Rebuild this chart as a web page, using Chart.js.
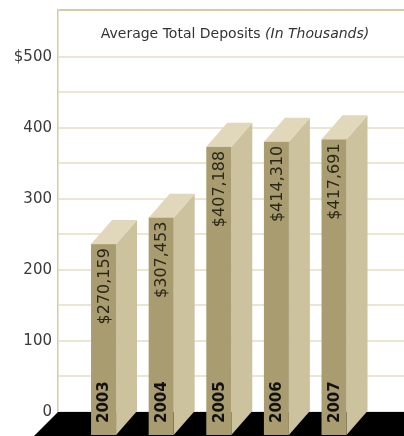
<!DOCTYPE html>
<html>
<head>
<meta charset="utf-8">
<script src="https://cdn.jsdelivr.net/npm/chart.js@4"></script>
<style>
  html, body { margin: 0; padding: 0; background: #fff; }
  canvas { display: block; }
</style>
</head>
<body>
<canvas id="deposits-chart" width="404" height="436"></canvas>
<script>
// data
const years = [2003, 2004, 2005, 2006, 2007];
const deposits = [270159, 307453, 407188, 414310, 417691];
const tickLabels = ['0', '100', '200', '300', '400', '$500'];
const titleMain = 'Average Total Deposits ';
const titleItalic = '(In Thousands)';

const yMax = 566000;
const depthX = 21;
const depthY = 24;

const colors = {
    front: '#a99c70',
    side: '#cdc29e',
    top: '#e1d8bc',
    floor: '#000000',
    grid: '#ebe6d3',
    border: '#d5cba6'
};

const bar3d = {
    id: 'bar3d',
    beforeDatasetsDraw(chart) {
        const { ctx, chartArea } = chart;
        ctx.save();
        // floor
        ctx.fillStyle = colors.floor;
        ctx.beginPath();
        ctx.moveTo(chartArea.left, chartArea.bottom);
        ctx.lineTo(chart.width + 30, chartArea.bottom);
        ctx.lineTo(chart.width + 30 - depthX - 3, chart.height);
        ctx.lineTo(chartArea.left - depthX - 3, chart.height);
        ctx.closePath();
        ctx.fill();

        // title inside plot
        const size = 14;
        ctx.font = size + 'px "DejaVu Sans"';
        const w1 = ctx.measureText(titleMain).width;
        ctx.font = 'italic ' + size + 'px "DejaVu Sans"';
        const w2 = ctx.measureText(titleItalic).width;
        const x = 235 - (w1 + w2) / 2;
        ctx.fillStyle = '#333';
        ctx.textBaseline = 'alphabetic';
        ctx.textAlign = 'left';
        ctx.font = size + 'px "DejaVu Sans"';
        ctx.fillText(titleMain, x, chartArea.top + 28);
        ctx.font = 'italic ' + size + 'px "DejaVu Sans"';
        ctx.fillText(titleItalic, x + w1, chartArea.top + 28);
        ctx.restore();
    },
    afterDatasetsDraw(chart) {
        const { ctx } = chart;
        const meta = chart.getDatasetMeta(0);
        ctx.save();
        meta.data.forEach((bar, i) => {
            const half = bar.width / 2;
            const bl = bar.x - half, br = bar.x + half;
            const fl = bl - depthX, fr = br - depthX;
            const bt = bar.y, ft = bar.y + depthY;
            const base = bar.base;

            // side face
            ctx.fillStyle = colors.side;
            ctx.beginPath();
            ctx.moveTo(fr, ft);
            ctx.lineTo(br, bt);
            ctx.lineTo(br, base);
            ctx.lineTo(fr, base + depthY);
            ctx.closePath();
            ctx.fill();

            // top face
            ctx.fillStyle = colors.top;
            ctx.beginPath();
            ctx.moveTo(fl, ft);
            ctx.lineTo(bl, bt);
            ctx.lineTo(br, bt);
            ctx.lineTo(fr, ft);
            ctx.closePath();
            ctx.fill();

            // front face
            ctx.fillStyle = colors.front;
            ctx.fillRect(fl, ft, fr - fl, base + depthY - ft);

            // labels, rotated
            const cx = (fl + fr) / 2;
            ctx.save();
            ctx.translate(cx, 0);
            ctx.rotate(-Math.PI / 2);
            ctx.textBaseline = 'middle';
            ctx.fillStyle = '#2b2716';
            ctx.font = '16px "DejaVu Sans"';
            ctx.textAlign = 'right';
            ctx.fillText('$' + deposits[i].toLocaleString('en-US'), -(ft + 4), 1);
            ctx.fillStyle = '#111';
            ctx.font = 'bold 15px "DejaVu Sans"';
            ctx.textAlign = 'left';
            ctx.fillText(String(years[i]), -(base + depthY - 12), 1);
            ctx.restore();
        });
        ctx.restore();
    }
};

new Chart(document.getElementById('deposits-chart'), {
    type: 'bar',
    data: {
        datasets: [{
            data: years.map((yr, i) => ({ x: yr, y: deposits[i] })),
            backgroundColor: 'rgba(0,0,0,0)',
            barThickness: 25
        }]
    },
    options: {
        responsive: false,
        animation: false,
        layout: { padding: { top: 10, bottom: 24, left: 0, right: 0 } },
        plugins: {
            legend: { display: false },
            tooltip: { enabled: false }
        },
        scales: {
            x: {
                type: 'linear',
                display: false,
                offset: false,
                min: 2001.845,
                max: 2007.85
            },
            y: {
                min: 0,
                max: yMax,
                afterFit(scale) {
                    scale.width = 58;
                    scale.paddingTop = 0;
                    scale.paddingBottom = 0;
                },
                afterBuildTicks(scale) {
                    const ticks = [];
                    for (let v = 0; v <= 500000; v += 50000) ticks.push({ value: v });
                    ticks.push({ value: yMax });
                    scale.ticks = ticks;
                },
                grid: {
                    drawTicks: false,
                    lineWidth: 2,
                    color: ctx => ctx.tick && ctx.tick.value === yMax ? colors.border : colors.grid
                },
                border: { display: true, color: colors.border, width: 1.5 },
                ticks: {
                    padding: 6,
                    color: '#3a3a3a',
                    font: { family: '"DejaVu Sans"', size: 15 },
                    callback: v => (v % 100000 === 0 && v <= 500000) ? tickLabels[v / 100000] : ''
                }
            }
        }
    },
    plugins: [bar3d]
});
</script>
</body>
</html>
